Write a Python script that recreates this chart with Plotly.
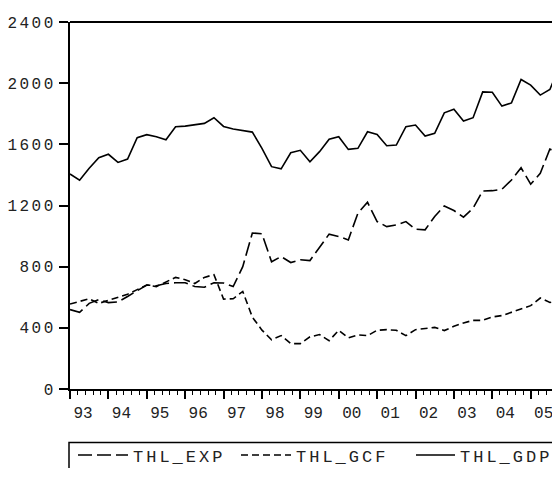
import plotly.graph_objects as go

start_year = 1993

series_names = ["THL_EXP", "THL_GCF", "THL_GDP"]

thl_exp = [519, 501, 560, 584, 565, 570, 605, 640, 680, 675, 690, 695, 695, 670, 665, 695,
           693, 670, 800, 1020, 1015, 832, 866, 827, 845, 840, 925, 1013, 997, 975, 1150, 1221,
           1095, 1062, 1073, 1095, 1045, 1041, 1128, 1197, 1167, 1124, 1182, 1295, 1297, 1306,
           1367, 1447, 1339, 1411, 1569, 1548]

thl_gcf = [556, 575, 590, 560, 580, 605, 620, 650, 680, 670, 700, 730, 715, 690, 730, 748,
           588, 590, 638, 470, 385, 322, 349, 297, 297, 341, 356, 316, 384, 334, 354, 349,
           384, 388, 384, 349, 388, 397, 403, 382, 410, 432, 449, 449, 471, 480, 501, 519,
           545, 595, 566, 579]

thl_gdp = [1406, 1365, 1443, 1513, 1535, 1482, 1504, 1643, 1663, 1650, 1630, 1715, 1719, 1727,
           1737, 1774, 1717, 1700, 1689, 1680, 1574, 1454, 1440, 1545, 1561, 1486, 1552, 1633,
           1650, 1567, 1574, 1682, 1665, 1591, 1595, 1715, 1726, 1654, 1672, 1806, 1830, 1752,
           1774, 1943, 1941, 1850, 1871, 2024, 1987, 1922, 1959, 2110]

year_ticks = list(range(1993, 2006))
year_labels = ["93", "94", "95", "96", "97", "98", "99", "00", "01", "02", "03", "04", "05"]
y_ticks = [0, 400, 800, 1200, 1600, 2000, 2400]

x = [start_year + i / 4 for i in range(len(thl_gdp))]

FONT = "Liberation Mono"

# page body has an 8px default margin: figure is sized so the page does not overflow
W, H = 552, 460
ML, MT = 62, 14
PLOT_BOTTOM = 381.5
PW = W - ML
PH = PLOT_BOTTOM - MT


def spaced(s, px):
    return f'<span style="letter-spacing:{px}px">{s}</span>'


def px_x(fx):
    return (fx - ML) / PW


def px_y(fy):
    return (PLOT_BOTTOM - fy) / PH


styles = {
    "THL_EXP": dict(color="black", width=1.6, dash="14px,5px"),
    "THL_GCF": dict(color="black", width=1.6, dash="7px,4px"),
    "THL_GDP": dict(color="black", width=1.6),
}
legend_ids = {"THL_EXP": "legend", "THL_GCF": "legend2", "THL_GDP": "legend3"}

fig = go.Figure()
for name, vals in zip(series_names, [thl_exp, thl_gcf, thl_gdp]):
    fig.add_trace(go.Scatter(x=x, y=vals, mode="lines", name=spaced(name, 3),
                             line=styles[name], legend=legend_ids[name]))

leg_font = dict(family=FONT, size=17, color="#222")
leg_y = px_y(448)


def leg(fx, iw):
    return dict(orientation="h", x=px_x(fx), xanchor="left", y=leg_y, yanchor="middle",
                borderwidth=0, bgcolor="rgba(0,0,0,0)", font=leg_font, itemwidth=iw)


fig.update_layout(
    width=W, height=H,
    margin=dict(l=ML, r=0, t=MT, b=H - PLOT_BOTTOM, autoexpand=False),
    plot_bgcolor="white", paper_bgcolor="white",
    font=dict(family=FONT, color="#222"),
    showlegend=True,
    legend=leg(65, 50),
    legend2=leg(228, 50),
    legend3=leg(403, 39),
    shapes=[
        dict(type="line", xref="paper", yref="paper", x0=0, x1=1, y0=1, y1=1,
             line=dict(color="black", width=2)),
        dict(type="rect", xref="paper", yref="paper", x0=px_x(61), x1=1.3,
             y0=px_y(435), y1=-0.6, line=dict(color="black", width=1.5)),
    ],
)

fig.update_xaxes(
    range=[1993, 1993 + PW / 38.39],
    tickmode="array", tickvals=year_ticks, ticktext=year_labels,
    ticks="outside", ticklen=8, tickwidth=1.5, tickcolor="black",
    ticklabelshift=13,
    showline=True, linewidth=2, linecolor="black",
    showgrid=False, zeroline=False,
    tickfont=dict(family=FONT, size=16, color="#222"),
    minor=dict(tickmode="linear", tick0=1993, dtick=0.2, ticks="outside", ticklen=4,
               tickwidth=1, tickcolor="black", showgrid=False),
)

fig.update_yaxes(
    range=[0, 2400],
    tickmode="array", tickvals=y_ticks, ticktext=[spaced(str(v), 2.5) for v in y_ticks],
    ticks="outside", ticklen=9, tickwidth=1.5, tickcolor="black",
    showline=True, linewidth=2, linecolor="black",
    showgrid=False, zeroline=False,
    tickfont=dict(family=FONT, size=16, color="#222"),
)

fig.write_html("out.html")
